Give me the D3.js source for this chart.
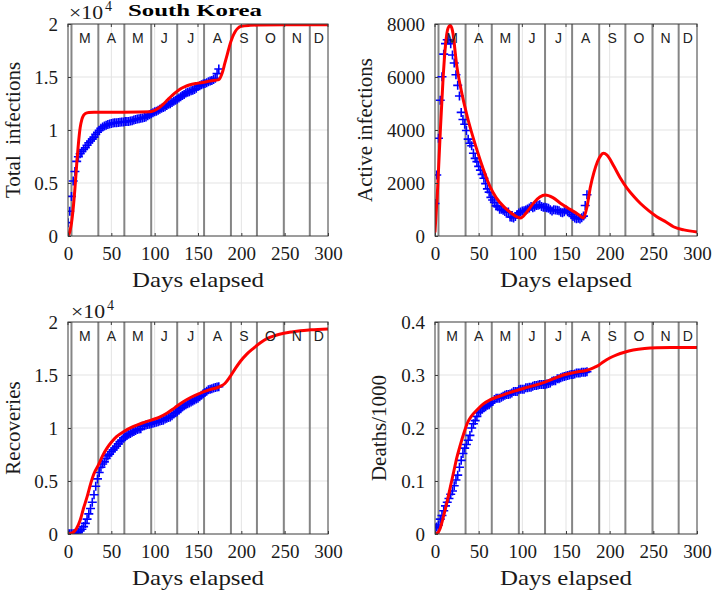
<!DOCTYPE html>
<html><head><meta charset="utf-8">
<script src="https://cdn.jsdelivr.net/npm/d3@7"></script>
<style>body{margin:0;background:#fff}svg{display:block}</style>
</head><body>
<svg id="c" width="714" height="590"></svg>
<script>
// ---------- data ----------
const titleText = "South Korea";
const xLabel = "Days elapsed";
const monthLetters = ["M","A","M","J","J","A","S","O","N","D"];
const monthStartDays = [4,35,65,96,126,157,188,218,249,279];
const xTicks = [0,50,100,150,200,250,300];

const countTicks = [0,5000,10000,15000,20000];
const countTickLabels = ["0","0.5","1","1.5","2"];
const activeTicks = [0,2000,4000,6000,8000];
const activeTickLabels = ["0","2000","4000","6000","8000"];
const deathTicks = [0,0.1,0.2,0.3,0.4];
const deathTickLabels = ["0","0.1","0.2","0.3","0.4"];

// observed data, every 2nd day from day 0 to day 174
const obsStep = 2;
const obsTotal = [1261,2337,3736,5186,6088,7041,7478,7755,7979,8162,8320,8565,8799,8961,9137,9332,9583,9786,9976,10156,10284,10384,10450,10512,10564,10613,10653,10674,10694,10718,10738,10752,10765,10793,10804,10810,10840,10874,10936,10991,11037,11065,11110,11142,11190,11225,11344,11441,11541,11629,11719,11776,11852,11947,12051,12121,12198,12306,12421,12484,12602,12715,12800,12904,13030,13137,13244,13338,13479,13551,13612,13711,13745,13816,13938,14092,14175,14269,14336,14389,14456,14562,14626,14660,14770,14873,15318,15761];
const obsActive = [1227,2302,3686,5124,6012,6862,7259,7407,7402,7253,6832,6527,6085,5684,5281,4665,4398,4216,3979,3654,3500,3408,3125,2930,2808,2627,2484,2324,2179,1977,1778,1654,1459,1360,1267,1135,1100,1008,1008,969,924,898,909,716,711,681,735,809,871,910,940,951,977,1017,1056,1114,1063,1096,1154,1161,1176,1116,1089,1085,1063,1043,989,946,986,980,971,957,895,876,912,977,919,883,802,736,679,654,667,645,690,751,1150,1554];
const obsRecovered = [22,22,30,34,41,135,166,288,450,700,1000,1400,1900,2400,3000,3700,4500,5200,5800,6300,6600,6800,7117,7368,7534,7757,7937,8114,8277,8501,8717,8854,9059,9183,9283,9419,9484,9610,9670,9762,9851,9904,9938,10162,10213,10275,10340,10363,10398,10446,10506,10552,10599,10654,10718,10730,10856,10930,10987,11042,11144,11317,11429,11537,11684,11810,11970,12104,12204,12282,12348,12461,12555,12644,12729,12817,12957,13086,13233,13352,13475,13604,13655,13711,13775,13817,13863,13901];
const obsDeaths = [0.012,0.013,0.017,0.028,0.035,0.044,0.053,0.060,0.067,0.075,0.081,0.091,0.102,0.111,0.126,0.139,0.152,0.162,0.169,0.177,0.186,0.200,0.208,0.214,0.222,0.229,0.232,0.236,0.238,0.240,0.243,0.244,0.247,0.250,0.254,0.256,0.256,0.256,0.258,0.260,0.262,0.263,0.263,0.264,0.266,0.269,0.269,0.269,0.272,0.273,0.273,0.273,0.276,0.276,0.277,0.277,0.279,0.280,0.280,0.281,0.282,0.282,0.282,0.282,0.283,0.284,0.285,0.288,0.289,0.289,0.293,0.293,0.295,0.296,0.297,0.298,0.299,0.300,0.301,0.301,0.302,0.304,0.304,0.304,0.305,0.305,0.305,0.306];

// model fits (red)
const fitTotalDays = [0,2,4,6,8,10,12,14,16,18,20,24,30,60,95,100,105,110,115,120,125,130,135,140,150,160,170,174,178,181,184,187,190,193,196,200,210,220,250,300];
const fitTotal = [0,400,1200,2600,4500,6700,8700,10200,11000,11400,11550,11650,11670,11680,11720,11850,12100,12450,12850,13250,13600,13900,14100,14250,14420,14560,14690,14750,15400,16300,17200,18100,18800,19300,19600,19780,19870,19900,19920,19920];
const fitActiveDays = [0,3,6,9,12,15,17.5,20,25,30,37,48,55,63,70,79,88,98,105,113,120,126,135,144,152,159,165,170,174,178,182,186,190,193,197,205,212,220,228,235,245,254,265,273,285,300];
const fitActive = [160,1800,3900,5800,7200,7850,7950,7750,6400,5500,4500,3250,2550,1860,1450,1100,850,680,900,1250,1470,1550,1450,1230,1060,920,790,680,1100,1860,2400,2800,3050,3120,3050,2620,2200,1800,1480,1234,950,730,520,350,230,150];
const fitRecoveredDays = [0,5,10,14,18,22,26,30,35,40,45,50,56,65,75,85,96,105,114,123,133,142,152,163,175,181,187,193,199,206,214,222,230,240,249,258,268,280,300];
const fitRecovered = [0,100,540,1300,2450,3500,4700,5700,6500,7400,8100,8650,9180,9700,10120,10450,10750,11000,11390,11900,12480,12900,13270,13600,13900,14200,14840,15600,16300,16950,17520,18050,18460,18750,18930,19060,19180,19260,19340];
const fitDeathsDays = [0,3,6,10,14,18,21.5,25,29,33,37,42,48,55,63,72,82,92,102,113,125,136,147,160,174,182,188,193,200,208,217,227,240,254,270,300];
const fitDeaths = [0,0.002,0.011,0.035,0.062,0.092,0.118,0.144,0.168,0.190,0.209,0.223,0.234,0.245,0.253,0.259,0.265,0.270,0.275,0.280,0.286,0.293,0.300,0.305,0.309,0.314,0.319,0.325,0.332,0.338,0.343,0.347,0.350,0.3515,0.352,0.352];

// ---------- layout ----------
const SERIF = "'Liberation Serif','Times New Roman',Times,serif";
const SANS = "'Liberation Sans',Arial,Helvetica,sans-serif";
const panels = [
  {id:"tl", box:[68,328,24,236], obs:obsTotal, fitX:fitTotalDays, fitY:fitTotal, yMax:20000, ticks:countTicks, labels:countTickLabels, ylab:"Total  infections", ylabX:20, exp:true, expX:69, expY:19},
  {id:"tr", box:[435,697,24,236], obs:obsActive, fitX:fitActiveDays, fitY:fitActive, yMax:8000, ticks:activeTicks, labels:activeTickLabels, ylab:"Active infections", ylabX:372, exp:false},
  {id:"bl", box:[68,328,322,534], obs:obsRecovered, fitX:fitRecoveredDays, fitY:fitRecovered, yMax:20000, ticks:countTicks, labels:countTickLabels, ylab:"Recoveries", ylabX:20, exp:true, expX:71, expY:318},
  {id:"br", box:[435,697,322,534], obs:obsDeaths, fitX:fitDeathsDays, fitY:fitDeaths, yMax:0.4, ticks:deathTicks, labels:deathTickLabels, ylab:"Deaths/1000", ylabX:386, exp:false}
];

const svg = d3.select("#c");
svg.append("rect").attr("width",714).attr("height",590).attr("fill","#fff");

panels.forEach(p => {
  const [x0,x1,y0,y1] = p.box;
  const x = d3.scaleLinear().domain([0,300]).range([x0,x1]);
  const y = d3.scaleLinear().domain([0,p.yMax]).range([y1,y0]);
  const g = svg.append("g");

  g.append("clipPath").attr("id","clip-"+p.id).append("rect")
    .attr("x",x0).attr("y",y0).attr("width",x1-x0).attr("height",y1-y0);

  // grid
  g.append("g").selectAll("line").data(xTicks.slice(1,-1)).join("line")
    .attr("x1",d=>x(d)).attr("x2",d=>x(d)).attr("y1",y0).attr("y2",y1)
    .attr("stroke","#e3e3e3").attr("stroke-width",1);
  g.append("g").selectAll("line").data(p.ticks.slice(1,-1)).join("line")
    .attr("x1",x0).attr("x2",x1).attr("y1",d=>y(d)).attr("y2",d=>y(d))
    .attr("stroke","#e3e3e3").attr("stroke-width",1);

  // month boundaries
  g.append("g").selectAll("line").data(monthStartDays).join("line")
    .attr("x1",d=>x(d)).attr("x2",d=>x(d)).attr("y1",y0).attr("y2",y1)
    .attr("stroke","#858585").attr("stroke-width",2);

  // observed markers
  const plus = "M-4.5,0H4.5M0,-4.5V4.5";
  g.append("g").attr("clip-path","url(#clip-"+p.id+")")
    .selectAll("path").data(p.obs).join("path")
    .attr("d",plus)
    .attr("transform",(d,i)=>`translate(${x(i*obsStep)},${y(d)})`)
    .attr("stroke","#0000ff").attr("stroke-width",1.6).attr("fill","none");

  // fit line
  const line = d3.line().x(d=>x(d[0])).y(d=>y(d[1])).curve(d3.curveMonotoneX);
  g.append("path").attr("clip-path","url(#clip-"+p.id+")")
    .datum(p.fitX.map((d,i)=>[d,p.fitY[i]]))
    .attr("d",line).attr("fill","none").attr("stroke","#ff0000").attr("stroke-width",3)
    .attr("stroke-linejoin","round").attr("stroke-linecap","round");

  // month letters
  const bounds = monthStartDays.concat([300]);
  g.append("g").selectAll("text").data(monthLetters).join("text")
    .attr("x",(d,i)=>x((bounds[i]+Math.min(bounds[i+1],300))/2))
    .attr("y",y0+19)
    .attr("text-anchor","middle")
    .attr("font-family",SANS).attr("font-size",14).attr("fill","#222")
    .text(d=>d);

  // border
  g.append("rect").attr("x",x0).attr("y",y0).attr("width",x1-x0).attr("height",y1-y0)
    .attr("fill","none").attr("stroke","#3a3a3a").attr("stroke-width",1);

  // axes
  const ax = d3.axisBottom(x).tickValues(xTicks).tickFormat(d3.format("d"))
    .tickSizeInner(-3).tickSizeOuter(0).tickPadding(11);
  const axG = g.append("g").attr("transform",`translate(0,${y1})`).call(ax);
  const ay = d3.axisLeft(y).tickValues(p.ticks).tickFormat((d,i)=>p.labels[i])
    .tickSizeInner(-3).tickSizeOuter(0).tickPadding(10);
  const ayG = g.append("g").attr("transform",`translate(${x0},0)`).call(ay);
  [axG,ayG].forEach(a=>{
    a.select(".domain").remove();
    a.selectAll("line").attr("stroke","#3a3a3a");
    a.selectAll("text").attr("font-family",SERIF).attr("font-size",19).attr("fill","#1a1a1a");
  });
  // top ticks
  g.append("g").selectAll("line").data(xTicks).join("line")
    .attr("x1",d=>x(d)).attr("x2",d=>x(d)).attr("y1",y0).attr("y2",y0+3).attr("stroke","#3a3a3a");

  // x label
  g.append("text").attr("x",(x0+x1)/2).attr("y",y1+51).attr("text-anchor","middle")
    .attr("font-family",SERIF).attr("font-size",22).attr("fill","#1a1a1a")
    .attr("textLength",132).attr("lengthAdjust","spacingAndGlyphs")
    .text(xLabel);
  // y label
  g.append("text").attr("transform",`translate(${p.ylabX},${(y0+y1)/2}) rotate(-90)`)
    .attr("text-anchor","middle").style("white-space","pre")
    .attr("font-family",SERIF).attr("font-size",21).attr("fill","#1a1a1a")
    .text(p.ylab);

  // exponent
  if (p.exp) {
    const t = g.append("text").attr("x",p.expX).attr("y",p.expY)
      .attr("font-family",SERIF).attr("font-size",19).attr("fill","#1a1a1a");
    t.append("tspan").attr("textLength",34).attr("lengthAdjust","spacingAndGlyphs").text("\u00d710");
    t.append("tspan").attr("dx",2).attr("dy",-8).attr("font-size",14).text("4");
  }
});

// title
svg.append("text").attr("x",128).attr("y",16)
  .attr("font-family",SERIF).attr("font-weight","bold").attr("font-size",17).attr("fill","#000")
  .attr("textLength",134).attr("lengthAdjust","spacingAndGlyphs")
  .text(titleText);
</script>
</body></html>
